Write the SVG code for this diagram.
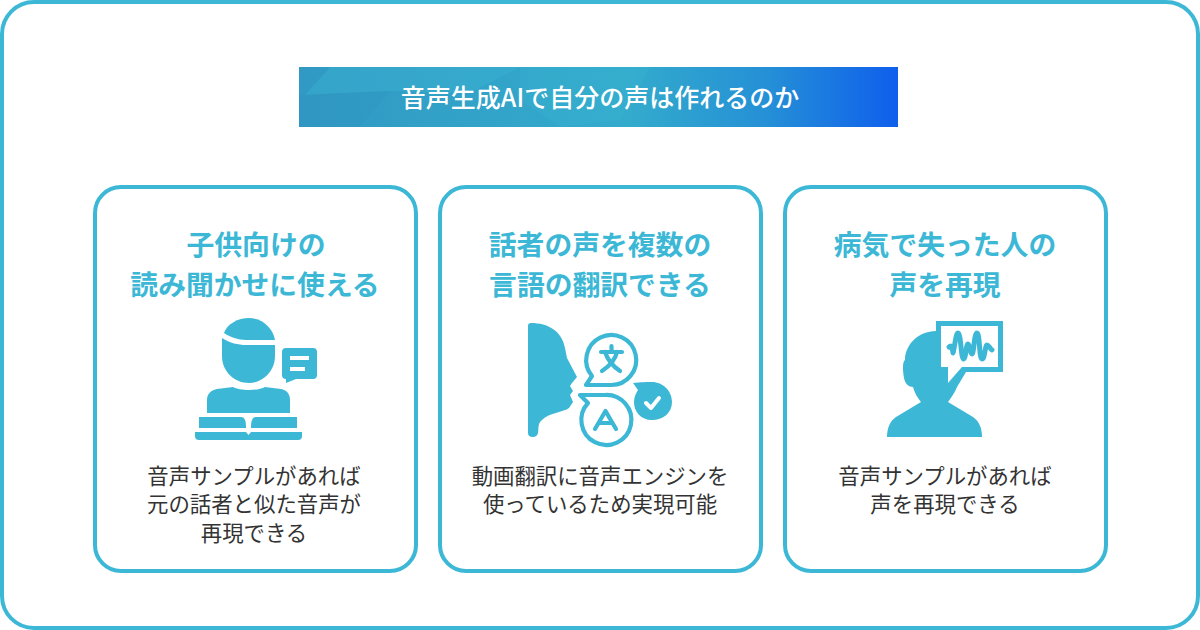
<svg xmlns="http://www.w3.org/2000/svg" width="1200" height="630" viewBox="0 0 1200 630">
<style>
text{font-family:"Noto Sans CJK JP","Noto Sans",sans-serif;text-anchor:middle}
.card{fill:#fff;stroke:#3cb8d6;stroke-width:4}
.h{font-size:27.8px;font-weight:700;fill:#3cb8d6}
.b{font-size:21.4px;fill:#333}
.i{fill:#3cb8d6}
.l{fill:none;stroke:#3cb8d6;stroke-width:4.200;stroke-linecap:round;stroke-linejoin:round}
</style>
<defs>
<linearGradient id="g" x1="0" y1="0" x2="1" y2="0">
<stop offset="0" stop-color="#3199c4"/><stop offset="0.55" stop-color="#33abcc"/><stop offset="0.78" stop-color="#2590d6"/><stop offset="1" stop-color="#0f5fec"/>
</linearGradient>
</defs>
<rect x="2" y="2" width="1196" height="626" rx="32" fill="#fff" stroke="#3cb8d6" stroke-width="4"/>
<g id="title">
<rect x="299" y="67" width="599" height="60" fill="url(#g)"/>
<path d="M330 67H520L470 93 390 91 305 95Z" fill="#3db4d2" opacity=".4"/>
<path d="M520 67H650L620 120 560 127 520 100Z" fill="#3ab6d4" opacity=".25"/>
<path d="M299 95 390 91 360 127H299Z" fill="#2f93bf" opacity=".3"/>
<text x="600" y="107" font-size="25" font-weight="500" fill="#fff">音声生成AIで自分の声は作れるのか</text>
</g>
<g id="card1">
<rect class="card" x="95" y="187" width="321" height="384" rx="26"/>
<text class="h" x="256" y="255">子供向けの</text>
<text class="h" x="255" y="295">読み聞かせに使える</text>
<g>
<path class="i" d="M224 333C227 324 238 318 249 318C262 318 273 328 275 340H246C238 340 230 337 224 333Z"/>
<path class="i" d="M222 338C230 343 238 345 246 345H275V356C275 372 262 383 249 383C235 383 222 372 222 356Z"/>
<path class="i" d="M207 413V400C207 393 212 390 217 389L233 387C240 391 258 391 265 387L281 389C286 390 290 393 290 400V413Z"/>
<path class="i" d="M199 417H241C245 417 246 421 246 428H199Z"/>
<path class="i" d="M297 417H256C252 417 251 421 251 428H297Z"/>
<path class="i" d="M195 432H246L248.500 435 251 432H302V436Q302 440 298 440H199Q195 440 195 436Z"/>
<path class="i" fill-rule="evenodd" d="M286 348H313Q317 348 317 352V375Q317 379 313 379H296L286 383V379Q282 379 282 375V352Q282 348 286 348ZM290 356V360H309V356ZM290 367V371H305V367Z"/>
</g>
<text class="b" x="254" y="484">音声サンプルがあれば</text>
<text class="b" x="254" y="512">元の話者と似た音声が</text>
<text class="b" x="254" y="541">再現できる</text>
</g>
<g id="card2">
<rect class="card" x="440" y="187" width="321" height="384" rx="26"/>
<text class="h" x="600" y="255">話者の声を複数の</text>
<text class="h" x="600" y="295">言語の翻訳できる</text>
<g>
<path class="i" d="M531 323C548 323 562 331 565 348L567 358 577 377 572 383 570 386 573 391 570 395 573 402 569 408C564 412 548 413 542 420 537 424 539 430 538 433Q537 437 533 437 528 437 528 433V326Q528 323 531 323Z"/>
<path class="l" d="M592 376A25 25 0 1 1 611 385H586Z"/>
<path class="l" d="M601 352H622M611.500 346V352M617 352C615 361 608 367 602 371M605 352C608 361 614 367 620 371"/>
<path class="l" d="M605 395H580L588 403A25 25 0 1 0 605 395Z"/>
<path class="l" d="M595 429 605.500 411 616 429M599 423H612"/>
<path class="i" d="M633 383C640 382 648 382 652 382 663 382 672 391 672 402 672 413 663 420 652 420 641 420 634 412 634 402 634 397 636 393 638 390Z"/>
<path d="M646 403 651 408 659 398" fill="none" stroke="#fff" stroke-width="4" stroke-linecap="round" stroke-linejoin="round"/>
</g>
<text class="b" x="600" y="484">動画翻訳に音声エンジンを</text>
<text class="b" x="600" y="512">使っているため実現可能</text>
</g>
<g id="card3">
<rect class="card" x="785" y="187" width="321" height="384" rx="26"/>
<text class="h" x="945" y="255">病気で失った人の</text>
<text class="h" x="945" y="295">声を再現</text>
<g>
<path class="i" d="M936 321H1003V372H966L957 387C955 392 951 398 948 402L973 417C979 421 982 428 982 437H887C887 428 890 421 896 417L921 402C918 398 915 394 913 387C909 387 905 384 904 378C903 372 902 362 905 360C905 345 918 331 936 331Z"/>
<path fill="#fff" d="M941 326H998V367H962L948 383V367H941Z"/>
<path fill="none" stroke="#3cb8d6" stroke-width="5" stroke-linecap="round" stroke-linejoin="round" d="M949 347C951 345 952 346 953 353C955 345 956 333 958 333C961 333 961 359 963.500 359C966 359 966 344 968 344C970 344 970 354 972 354C974 354 974 333 977 333C980 333 979 359 982 359C985 359 985 345 987 345C989 345 990 349 992 350"/>
</g>
<text class="b" x="945" y="484">音声サンプルがあれば</text>
<text class="b" x="945" y="512">声を再現できる</text>
</g>
</svg>
